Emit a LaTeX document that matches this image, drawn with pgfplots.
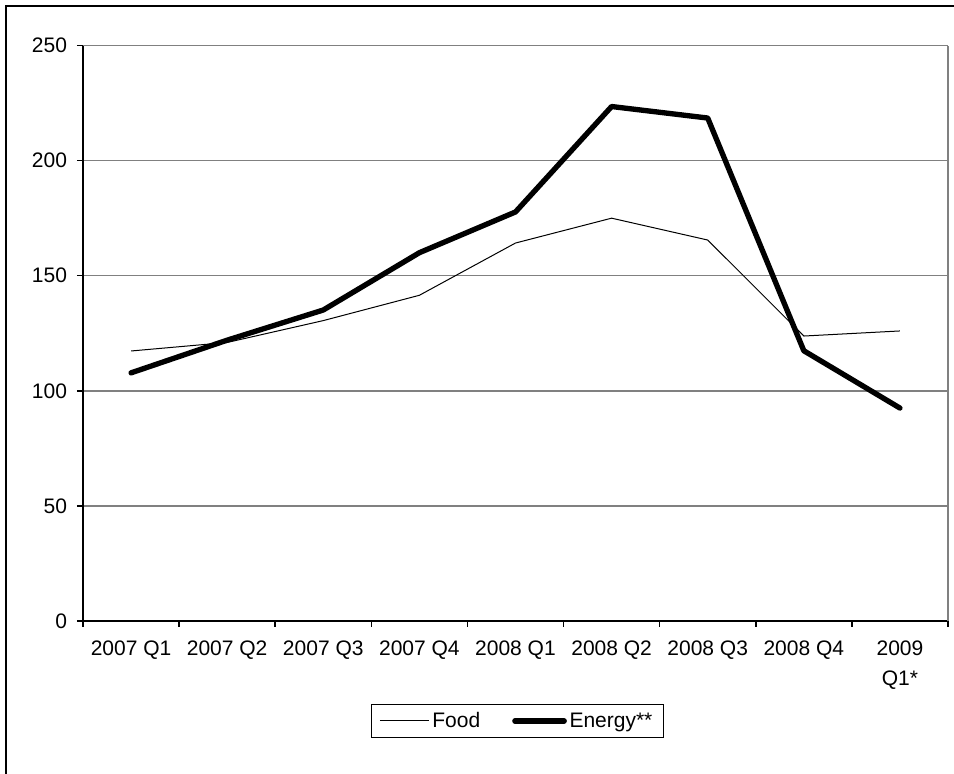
\documentclass[border=0pt]{standalone}
\usepackage{pgfplots}
\pgfplotsset{compat=1.18}
\usetikzlibrary{calc}
\usepackage{fontspec}
\setmainfont{Liberation Sans}

\newcommand{\lblfont}{\fontsize{15.75}{22.5}\selectfont}

\begin{document}
\begin{tikzpicture}[x=0.75pt,y=0.75pt]
\begin{axis}[
  name=ax,
  scale only axis,
  width=648.75pt, height=431.6pt,
  xmin=-0.5, xmax=8.5,
  ymin=0, ymax=250,
  ytick={0,50,...,250},
  xtick={0,...,8},
  xticklabels={2007 Q1,2007 Q2,2007 Q3,2007 Q4,2008 Q1,2008 Q2,2008 Q3,2008 Q4,{2009\\Q1*}},
  minor xtick={-0.5,0.5,...,8.5},
  axis x line=bottom, axis y line=left,
  axis line style={-, line width=1.1pt, black},
  x tick style={draw=none},
  minor x tick style={draw=black, line width=1.1pt},
  y tick style={black, line width=1.1pt},
  minor tick length=4.5pt, major tick length=4.5pt,
  tick align=outside,
  ymajorgrids,
  grid style={gray, line width=1.1pt},
  tick label style={font=\lblfont},
  xticklabel style={align=center, anchor=north, yshift=-7pt},
  yticklabel style={xshift=-4pt},
  /pgf/number format/assume math mode=true,
  clip=false,
  legend columns=2,
  legend style={at={(0.502,-0.144)}, anchor=north, draw=black, line width=0.75pt,
    font=\lblfont, inner xsep=6pt, inner ysep=4pt,
    /tikz/every even column/.append style={column sep=22pt}},
  legend image code/.code={\draw[#1] (0pt,0pt) -- (37pt,0pt);},
]
\addplot[black, line width=0.75pt] coordinates {
  (0,117.3) (1,121) (2,130.5) (3,141.5) (4,164.2) (5,175) (6,165.5) (7,123.8) (8,126)
};
\addlegendentry{Food}
\addplot[black, line width=4pt, line join=round, line cap=round] coordinates {
  (0,107.8) (1,122) (2,135.1) (3,160) (4,177.7) (5,223.5) (6,218.5) (7,117.4) (8,92.5)
};
\addlegendentry{Energy**}
\draw[gray, line width=1.1pt] (rel axis cs:1,0) -- (rel axis cs:1,1);
\end{axis}
% page and outer frame (only left and top edges are visible)
\coordinate (o) at ($(ax.south west)+(-83,-153)$);
\useasboundingbox (o) rectangle ($(o)+(954,774)$);
\draw[line width=1.3pt] ($(o)+(6,0)$) -- ($(o)+(6,768)$) -- ($(o)+(954,768)$);
\end{tikzpicture}
\end{document}
